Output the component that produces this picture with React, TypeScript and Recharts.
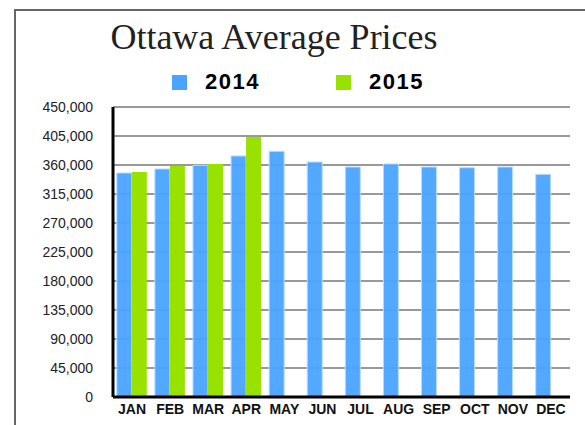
import React from 'react';
import {
  BarChart,
  Bar,
  XAxis,
  YAxis,
  CartesianGrid,
} from 'recharts';

const months = ['JAN', 'FEB', 'MAR', 'APR', 'MAY', 'JUN', 'JUL', 'AUG', 'SEP', 'OCT', 'NOV', 'DEC'];
const prices2014 = [347600, 353800, 359500, 374000, 381200, 364700, 356900, 361600, 356900, 355800, 356900, 345500];
const prices2015 = [349100, 358400, 361500, 403400, null, null, null, null, null, null, null, null];
const yTicks = [0, 45000, 90000, 135000, 180000, 225000, 270000, 315000, 360000, 405000, 450000];
const seriesNames = ['2014', '2015'];

const BLUE = '#4aa3ff';
const GREEN = '#99e200';

const data = months.map((month, i) => ({
  month,
  y2014: prices2014[i],
  y2015: prices2015[i],
}));

const fmt = (v: number) => v.toLocaleString('en-US');

export default function App() {
  return (
    <div
      style={{
        position: 'absolute',
        left: 0,
        top: 0,
        width: 585,
        height: 425,
        background: '#fff',
        overflow: 'hidden',
      }}
    >
      {/* outer frame, only left/top edges show */}
      <div
        style={{
          position: 'absolute',
          left: 14,
          top: 9,
          width: 620,
          height: 480,
          borderLeft: '2px solid #666',
          borderTop: '2px solid #666',
        }}
      />
      <div
        style={{
          position: 'absolute',
          left: 0,
          width: 548,
          top: 16,
          textAlign: 'center',
          fontFamily: '"Liberation Serif", serif',
          fontSize: 36,
          color: '#222',
          lineHeight: '42px',
        }}
      >
        Ottawa Average Prices
      </div>
      {/* legend */}
      {seriesNames.map((name, i) => (
        <div
          key={name}
          style={{
            position: 'absolute',
            left: 172 + i * 164,
            top: 70,
            display: 'flex',
            alignItems: 'center',
            height: 24,
          }}
        >
          <span
            style={{
              display: 'inline-block',
              width: 15,
              height: 15,
              background: i === 0 ? BLUE : GREEN,
              marginRight: 18,
            }}
          />
          <span
            style={{
              fontFamily: '"Liberation Sans", Arial, sans-serif',
              fontWeight: 'bold',
              fontSize: 22,
              letterSpacing: 1.5,
              color: '#000',
            }}
          >
            {name}
          </span>
        </div>
      ))}
      <div style={{ position: 'absolute', left: 0, top: 0 }}>
        <BarChart
          width={585}
          height={425}
          data={data}
          margin={{ top: 107, right: 15, left: 0, bottom: 0 }}
          barCategoryGap="10%"
          barGap={0}
        >
          <CartesianGrid vertical={false} stroke="#999" strokeWidth={2} />
          <XAxis
            dataKey="month"
            height={28}
            tickSize={0}
            tickMargin={7}
            axisLine={{ stroke: '#000', strokeWidth: 3 }}
            tick={{
              fill: '#111',
              fontSize: 14,
              fontWeight: 'bold',
              fontFamily: '"Liberation Sans Narrow", "Liberation Sans", Arial, sans-serif',
            }}
          />
          <XAxis
            xAxisId="top"
            dataKey="month"
            orientation="top"
            height={0}
            tick={false}
            tickLine={false}
            axisLine={{ stroke: '#000', strokeWidth: 3 }}
          />
          <YAxis
            width={113}
            domain={[0, 450000]}
            ticks={yTicks}
            interval={0}
            tickFormatter={fmt}
            tickSize={0}
            tickMargin={20}
            axisLine={{ stroke: '#000', strokeWidth: 3 }}
            tick={{ fill: '#222', fontSize: 14, fontFamily: '"Liberation Sans", Arial, sans-serif' }}
          />
          <YAxis
            yAxisId="right"
            orientation="right"
            width={0}
            domain={[0, 450000]}
            tick={false}
            tickLine={false}
            axisLine={{ stroke: '#000', strokeWidth: 3 }}
          />
          <Bar
            dataKey="y2014"
            name="2014"
            fill={BLUE}
            fillOpacity={0.95}
            stroke="#b8dcff"
            strokeWidth={1}
            isAnimationActive={false}
          />
          <Bar
            dataKey="y2015"
            name="2015"
            fill={GREEN}
            isAnimationActive={false}
          />
        </BarChart>
      </div>
    </div>
  );
}
